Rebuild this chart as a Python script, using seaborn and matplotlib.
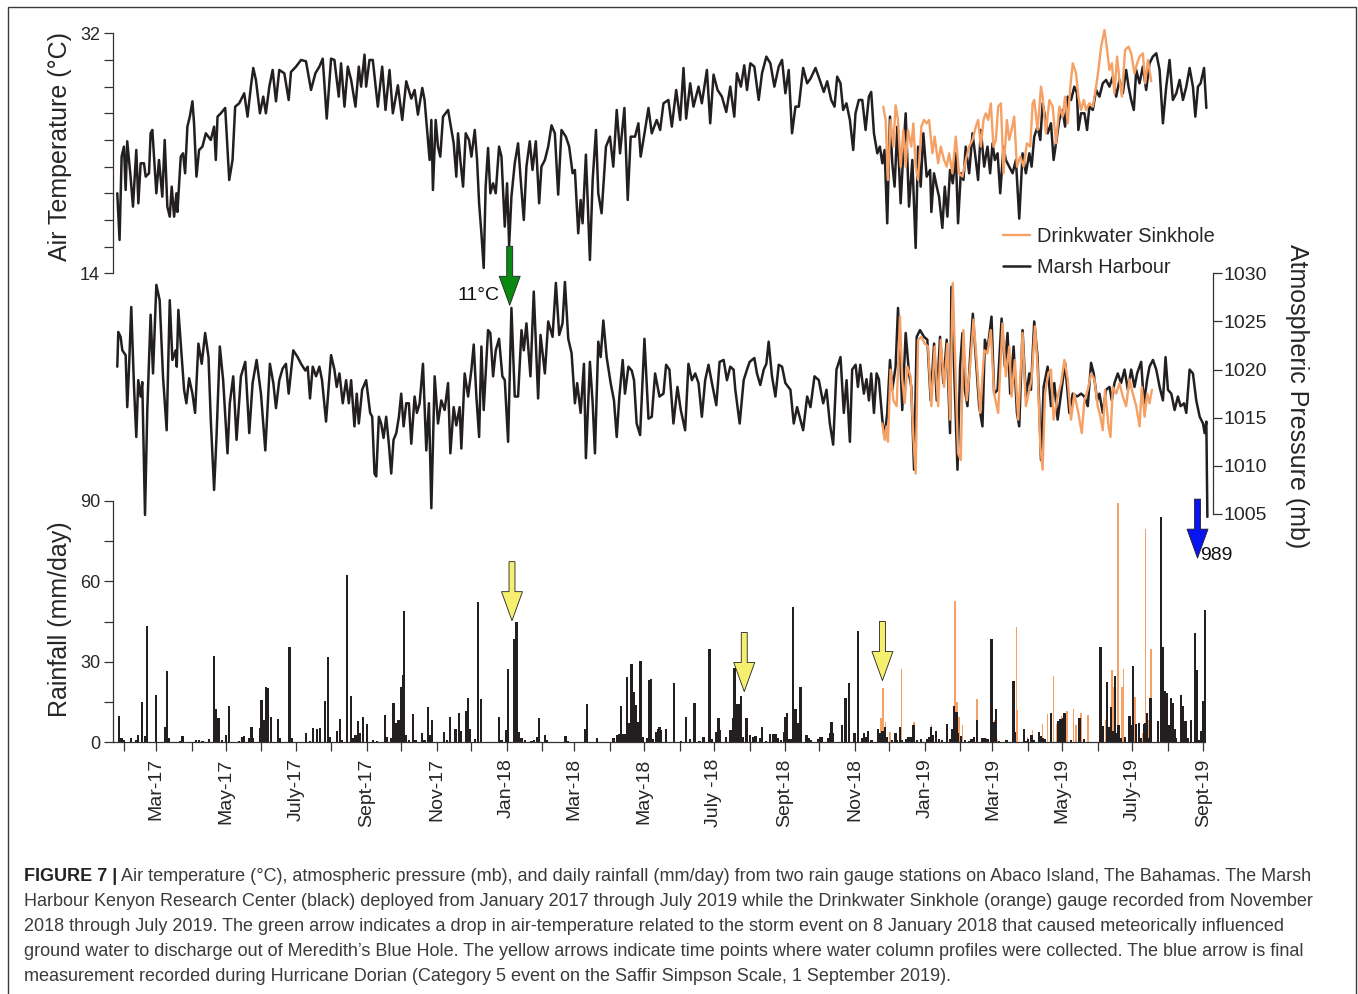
import matplotlib
matplotlib.use("Agg")
import matplotlib.pyplot as plt
import matplotlib.dates as mdates
from matplotlib.patches import Rectangle
import seaborn as sns
import pandas as pd
import numpy as np

# ---------------- data (day = days since 1 Jan 2017) ----------------
temp_marsh = [
 (25.2,20.0),(27.2,16.5),(29.0,22.75),(31.0,23.5),(32.5,20.25),(33.9,23.9),(36.8,21.25),(38.9,19.0),(41.8,23.25),(43.6,19.25),
 (45.6,22.25),(48.5,22.25),(50.0,21.25),(52.9,21.5),(54.3,24.5),(55.8,24.75),(59.3,20.0),(61.6,22.5),(64.5,19.75),(66.6,24.0),
 (68.9,19.0),(71.0,18.25),(72.7,20.5),(74.8,18.25),(76.8,20.0),(77.7,18.6),(80.6,22.75),(82.6,23.0),(84.4,21.5),(86.4,25.0),
 (88.5,25.75),(90.8,26.9),(92.2,25.25),(94.3,21.25),(96.6,23.25),(99.5,23.5),(102.5,24.5),(106.8,24.0),(109.7,25.0),(111.2,22.5),
 (112.7,25.75),(115.6,26.0),(119.4,26.4),(122.9,21.0),(125.8,22.5),(128.1,26.5),(131.6,26.75),(136.0,27.5),(138.9,25.75),(141.8,28.0),
 (143.9,29.4),(146.2,28.5),(149.7,26.0),(152.6,27.25),(154.9,26.0),(157.9,28.0),(160.8,29.25),(163.7,26.9),(166.6,29.25),(171.0,29.0),
 (174.8,27.0),(176.8,29.1),(181.2,29.5),(185.6,30.0),(189.9,29.9),(194.3,27.75),(198.1,29.0),(201.6,29.5),(204.5,30.1),(208.0,25.6),
 (211.8,30.1),(214.7,30.0),(218.5,27.25),(220.5,29.75),(223.5,26.5),(226.4,29.5),(229.3,28.5),(233.1,26.5),(236.0,29.5),(238.0,28.0),
 (241.0,30.4),(242.4,28.0),(245.3,30.0),(248.2,30.0),(252.6,26.5),(256.4,29.5),(259.3,26.25),(262.8,29.25),(265.7,26.0),(270.1,28.1),
 (273.9,25.5),(277.4,28.4),(281.8,27.1),(284.7,27.75),(287.6,25.9),(291.4,27.9),(293.4,27.0),(297.8,22.5),(299.3,25.5),(300.7,20.25),
 (303.1,25.5),(305.1,23.5),(307.1,22.75),(309.5,25.75),(313.9,26.25),(316.8,24.75),(318.8,23.75),(321.1,21.25),(322.6,24.5),(324.6,22.5),
 (327.0,20.5),(329.3,24.5),(332.2,24.0),(334.3,22.75),(337.2,24.75),(339.2,22.5),(341.0,19.25),(343.0,17.0),(345.0,14.4),(346.7,20.5),
 (348.8,23.4),(350.8,20.0),(353.2,20.75),(355.5,20.0),(358.4,23.5),(360.5,22.75),(363.4,17.5),(365.4,20.75),(367.2,16.1),(369.2,19.75),
 (372.1,22.25),(375.0,23.75),(377.1,21.25),(380.0,18.0),(382.3,22.0),(385.2,23.9),(387.6,21.75),(390.5,23.9),(393.4,19.25),(395.4,22.0),
 (398.4,22.5),(401.3,23.5),(404.2,25.1),(407.1,24.5),(410.0,19.9),(412.9,24.75),(416.7,24.25),(419.6,23.5),(422.6,21.5),(424.6,21.75),
 (427.5,17.0),(429.6,19.5),(431.3,17.75),(434.2,22.9),(437.7,15.0),(440.1,21.0),(443.0,24.75),(445.0,20.0),(447.9,18.5),(451.7,23.5),
 (455.2,24.25),(458.1,22.0),(461.1,26.25),(464.0,23.0),(467.8,26.4),(470.7,19.5),(473.3,24.25),(477.1,24.25),(480.0,25.25),(482.0,22.75),
 (485.8,24.75),(488.8,26.4),(491.7,24.5),(496.0,25.5),(499.0,24.75),(501.9,26.75),(506.2,27.0),(509.2,25.0),(513.0,27.75),(516.5,25.5),
 (519.4,29.4),(521.7,25.6),(525.2,28.25),(528.1,26.5),(532.5,28.0),(535.4,26.75),(539.8,29.25),(542.7,25.25),(545.6,28.9),(549.1,27.75),
 (552.9,27.25),(556.7,26.1),(560.2,28.0),(563.7,25.75),(566.0,29.0),(569.5,28.0),(572.4,29.6),(574.8,27.75),(577.7,29.75),(581.2,29.5),
 (585.0,27.0),(587.9,29.0),(591.7,30.25),(595.2,29.75),(598.7,28.0),(602.5,29.5),(605.4,30.0),(608.3,27.5),(611.2,29.25),(614.1,24.5),
 (617.1,26.5),(620.0,26.5),(623.8,29.4),(627.3,28.25),(630.2,28.6),(634.6,29.4),(638.3,28.5),(641.8,27.6),(644.8,28.4),(648.3,27.0),
 (651.2,26.5),(653.5,28.75),(656.4,28.25),(658.7,26.25),(661.6,26.75),(664.6,25.5),(667.5,23.25),(669.5,26.0),(672.4,27.0),(675.4,27.0),
 (678.3,24.75),(681.2,27.25),(683.2,27.6),(685.6,24.5),(688.5,23.0),(690.8,23.5),(692.9,22.25),(694.9,23.25),(697.2,17.75),(699.6,25.75),
 (701.6,22.25),(703.6,20.5),(706.0,25.0),(708.9,19.25),(711.2,23.0),(713.3,26.0),(716.2,19.0),(719.1,22.5),(722.0,15.9),(724.1,23.5),
 (726.4,20.5),(728.7,24.5),(731.6,21.25),(734.6,21.75),(735.7,18.6),(738.0,21.5),(740.4,20.5),(742.4,19.75),(745.3,17.4),(747.4,20.5),
 (749.7,18.25),(752.0,21.75),(754.4,20.75),(757.0,23.0),(759.0,17.75),(761.4,21.5),(763.7,21.0),(765.7,23.5),(768.7,21.5),(771.6,24.5),
 (774.5,22.5),(776.5,21.0),(778.9,24.75),(781.8,22.0),(784.7,23.5),(787.0,21.5),(789.1,23.75),(791.1,22.5),(793.5,23.0),(795.8,20.0),
 (798.7,23.5),(800.7,22.5),(803.7,22.0),(806.6,21.5),(809.5,22.5),(812.4,18.1),(815.3,23.0),(818.2,21.5),(821.2,23.0),(823.2,22.0),
 (825.5,24.25),(828.4,25.0),(830.8,24.0),(832.8,26.75),(834.9,25.75),(837.2,24.5),(840.1,25.25),(842.4,22.5),(844.5,23.75),(847.4,25.5),
 (850.3,26.25),(852.4,25.0),(854.7,27.25),(857.6,27.0),(860.5,28.0),(862.8,27.5),(864.0,24.75),(866.3,26.0),(869.3,26.0),(871.6,24.75),
 (873.6,26.5),(876.6,26.25),(879.5,27.75),(882.4,27.25),(885.3,28.25),(888.2,28.5),(891.1,28.0),(894.1,28.75),(897.0,27.25),(899.9,28.5),
 (902.8,27.5),(905.7,29.25),(907.8,28.0),(910.1,27.0),(912.4,26.25),(914.5,29.25),(917.4,28.25),(920.3,29.5),(923.2,27.75),(926.1,29.75),
 (929.0,30.25),(932.0,30.5),(934.9,29.25),(937.8,25.25),(940.7,28.0),(943.6,30.0),(946.5,27.0),(949.5,27.5),(952.4,28.5),(955.3,27.0),
 (958.2,28.0),(961.1,29.4),(964.0,28.0),(966.1,25.75),(968.4,28.0),(970.7,28.25),(973.7,29.4),(975.7,26.4)]

temp_drink = [
 (693.7,26.5),(695.8,25.5),(697.8,21.0),(700.1,25.5),(702.5,23.5),(704.5,26.6),(706.6,25.5),(708.9,22.0),(711.2,24.75),(713.3,22.0),
 (715.3,24.75),(718.2,23.5),(720.0,25.25),(722.0,22.0),(724.1,21.0),(727.0,25.0),(729.3,25.5),(731.6,25.25),(733.7,25.5),(736.6,23.0),
 (738.6,24.25),(741.6,22.25),(743.9,23.5),(746.8,22.5),(749.1,22.0),(751.2,23.0),(754.1,21.5),(757.0,24.25),(759.9,21.5),(762.8,21.25),
 (765.7,22.5),(768.7,23.5),(771.6,24.0),(774.5,25.0),(776.5,25.5),(778.9,23.5),(781.2,25.5),(783.2,26.0),(785.3,25.5),(787.6,26.75),
 (789.9,23.5),(792.0,24.0),(794.0,26.5),(796.4,26.75),(798.7,21.5),(801.6,25.5),(803.7,24.0),(805.7,24.75),(808.0,25.75),(810.4,22.0),
 (813.3,22.75),(816.2,22.0),(819.1,23.75),(822.0,23.5),(824.1,26.75),(825.5,27.0),(828.4,24.75),(831.4,28.0),(832.8,27.25),(835.7,24.5),
 (838.7,27.0),(841.6,26.5),(844.5,23.75),(847.4,26.5),(850.3,25.75),(852.4,27.25),(854.7,25.25),(857.0,28.0),(859.1,29.75),(862.0,29.0),
 (864.0,27.25),(866.3,26.25),(868.7,27.0),(870.7,26.25),(873.6,26.75),(876.6,26.5),(879.5,28.0),(881.5,29.25),(883.9,31.0),(886.8,32.25),
 (889.1,30.75),(891.1,29.25),(893.2,29.75),(895.5,27.5),(897.8,30.25),(899.9,28.5),(902.0,27.25),(904.8,30.75),(907.8,31.0),(910.1,30.5),
 (913.0,29.0),(915.3,29.75),(917.4,30.25),(920.3,30.5),(922.3,28.25),(924.7,30.0),(927.6,28.4)]

pres_marsh = [
 (25.2,1020.3),(26.1,1023.9),(28.1,1023.4),(29.6,1022.0),(32.5,1021.5),(33.9,1016.1),(35.4,1020.0),(37.4,1026.5),(39.8,1018.2),(41.8,1013.0),
 (43.5,1018.9),(45.6,1017.2),(47.0,1018.7),(49.4,1004.9),(51.4,1015.8),(54.3,1025.7),(56.4,1019.6),(59.3,1028.8),(62.2,1027.2),(65.1,1019.3),
 (68.3,1013.7),(71.0,1027.2),(73.3,1021.0),(76.2,1022.0),(77.1,1020.3),(78.5,1026.2),(81.5,1021.3),(83.5,1017.9),(85.5,1016.5),(87.9,1019.1),
 (90.8,1017.5),(93.1,1015.5),(96.0,1022.7),(98.9,1020.6),(101.9,1023.8),(104.8,1021.3),(106.8,1014.8),(109.7,1007.5),(111.8,1013.0),(114.7,1022.4),
 (117.6,1018.9),(121.4,1011.3),(123.4,1016.5),(126.4,1019.3),(129.3,1012.7),(133.1,1019.3),(136.9,1020.8),(140.4,1013.4),(143.3,1018.6),(146.8,1021.0),
 (150.6,1017.5),(154.4,1011.6),(158.4,1020.6),(161.4,1018.6),(163.7,1016.0),(166.6,1018.9),(169.5,1020.1),(172.4,1020.6),(174.8,1017.5),(178.8,1022.0),
 (182.6,1021.3),(185.6,1020.6),(189.3,1019.9),(191.4,1020.3),(193.4,1017.0),(195.8,1020.3),(198.7,1019.3),(201.6,1020.3),(203.9,1018.9),(207.4,1014.6),
 (211.8,1021.5),(214.7,1020.0),(216.7,1018.2),(219.1,1019.6),(222.0,1016.5),(224.9,1018.9),(227.3,1016.5),(229.3,1018.9),(232.2,1014.1),(234.2,1017.5),
 (236.0,1014.4),(238.9,1017.9),(242.4,1018.9),(245.9,1015.5),(247.7,1015.1),(249.7,1009.2),(251.2,1008.9),(253.5,1015.1),(255.5,1014.4),(257.6,1012.9),
 (259.9,1015.1),(262.2,1012.3),(264.3,1009.2),(266.3,1012.7),(268.7,1013.4),(271.0,1015.1),(273.0,1017.5),(275.1,1014.1),(277.4,1016.5),(279.7,1016.5),
 (281.8,1012.3),(284.7,1017.2),(286.7,1015.5),(289.1,1016.5),(292.0,1020.6),(294.9,1011.6),(297.2,1016.5),(299.3,1005.6),(302.2,1019.3),(305.1,1014.4),
 (308.0,1016.8),(310.9,1015.8),(313.9,1018.6),(315.9,1011.3),(318.8,1016.1),(321.1,1014.2),(324.0,1016.1),(325.5,1011.8),(328.4,1019.6),(331.4,1017.2),
 (334.3,1020.0),(336.3,1022.6),(338.6,1017.2),(341.0,1013.0),(343.0,1022.4),(345.0,1015.8),(348.8,1024.1),(350.8,1023.8),(353.2,1019.3),(355.5,1022.0),
 (358.4,1023.2),(361.3,1019.3),(363.4,1018.9),(366.3,1012.5),(369.2,1026.4),(372.1,1017.2),(375.0,1017.2),(378.0,1024.1),(380.0,1022.0),(382.3,1024.8),
 (385.8,1019.3),(388.7,1028.1),(392.5,1017.0),(394.6,1023.6),(398.4,1019.6),(401.3,1025.0),(405.1,1023.4),(408.0,1029.0),(410.9,1023.6),(413.8,1024.8),
 (415.9,1029.1),(418.8,1023.2),(421.7,1021.7),(424.6,1016.5),(426.6,1018.6),(429.6,1015.5),(432.5,1020.6),(434.2,1010.8),(437.7,1020.8),(440.1,1016.5),
 (442.1,1011.3),(445.0,1022.9),(447.1,1021.3),(449.4,1025.1),(452.3,1021.3),(455.8,1018.6),(458.7,1016.8),(461.1,1013.0),(463.4,1017.2),(466.3,1021.0),
 (468.3,1017.5),(471.3,1020.3),(474.2,1019.9),(476.2,1018.9),(478.5,1014.4),(481.5,1013.2),(485.3,1023.2),(488.8,1014.9),(491.7,1015.1),(494.6,1019.6),
 (498.4,1017.2),(501.9,1017.5),(504.2,1020.5),(507.1,1020.0),(510.6,1014.4),(514.1,1018.2),(517.0,1015.8),(520.8,1013.7),(523.7,1020.6),(526.7,1018.9),
 (529.6,1019.6),(532.5,1018.6),(535.4,1015.1),(538.3,1018.9),(541.2,1020.5),(544.2,1018.6),(548.0,1016.3),(550.9,1020.8),(554.4,1021.0),(557.3,1018.9),
 (560.2,1020.3),(563.1,1020.0),(564.6,1017.9),(568.4,1014.4),(571.9,1018.9),(574.8,1020.0),(577.1,1020.8),(581.2,1021.2),(583.5,1019.6),(586.4,1018.4),
 (589.4,1020.0),(591.7,1020.6),(593.7,1022.9),(596.6,1019.3),(599.6,1017.2),(602.5,1020.5),(605.4,1020.3),(608.3,1018.6),(612.7,1017.9),(615.6,1014.4),
 (618.5,1016.1),(621.4,1014.8),(623.8,1013.7),(627.3,1017.2),(630.2,1016.1),(633.7,1019.3),(637.5,1018.9),(641.3,1016.5),(644.2,1017.9),(647.1,1014.4),
 (650.0,1012.2),(652.9,1020.0),(656.4,1021.3),(659.3,1015.5),(661.7,1018.9),(664.6,1012.5),(666.6,1020.0),(669.6,1020.5),(671.6,1018.2),(673.7,1020.5),
 (676.8,1017.5),(679.1,1019.0),(681.2,1016.8),(683.2,1019.6),(685.6,1015.5),(687.9,1019.6),(689.9,1019.0),(692.9,1014.8),(694.9,1013.0),(697.2,1015.5),
 (699.6,1021.0),(701.6,1017.9),(704.5,1020.3),(706.6,1026.4),(708.9,1020.3),(710.3,1015.8),(713.3,1023.8),(716.2,1019.6),(718.2,1018.2),(720.6,1009.6),
 (722.9,1023.4),(725.8,1024.1),(729.3,1023.4),(732.2,1023.1),(735.1,1016.8),(738.1,1022.7),(740.4,1016.8),(743.3,1023.4),(746.2,1018.6),(749.1,1023.1),
 (752.0,1013.4),(753.2,1028.6),(755.5,1020.3),(758.5,1009.6),(760.8,1020.3),(762.8,1023.8),(764.9,1017.9),(767.2,1016.2),(769.5,1021.3),(771.9,1025.8),
 (774.5,1021.3),(777.4,1016.2),(780.3,1014.1),(782.4,1023.1),(784.7,1022.0),(788.2,1025.5),(790.5,1017.5),(793.5,1017.9),(797.0,1025.3),(799.9,1020.3),
 (802.2,1023.8),(804.5,1017.5),(807.5,1022.4),(810.4,1015.5),(812.4,1014.1),(815.3,1024.1),(818.2,1017.2),(821.2,1019.6),(822.6,1017.9),(825.5,1025.0),
 (828.4,1021.3),(831.4,1010.6),(833.7,1018.2),(837.2,1020.3),(840.1,1016.2),(843.0,1018.6),(845.9,1014.8),(848.9,1017.5),(852.4,1020.7),(856.1,1015.5),
 (859.1,1017.5),(862.9,1017.2),(866.4,1017.5),(869.3,1017.2),(872.2,1016.2),(875.1,1020.7),(877.4,1019.6),(880.4,1016.8),(882.4,1017.5),(885.3,1015.5),
 (888.2,1017.9),(891.2,1018.2),(893.2,1016.8),(895.5,1018.6),(898.4,1019.6),(901.3,1018.6),(904.3,1020.0),(907.2,1017.9),(910.1,1020.0),(913.0,1018.2),
 (915.3,1019.6),(918.8,1020.8),(921.2,1016.5),(924.1,1019.0),(926.1,1020.3),(929.1,1021.0),(932.0,1020.0),(934.9,1018.2),(937.8,1016.8),(940.1,1021.3),
 (942.2,1017.9),(945.1,1017.5),(948.0,1015.8),(950.9,1017.2),(953.2,1016.2),(956.2,1016.5),(958.2,1015.5),(961.1,1020.0),(964.0,1019.6),(966.9,1016.8),
 (969.9,1015.1),(972.8,1014.4),(974.2,1013.4),(975.7,1014.6),(976.6,1004.7)]

pres_drink = [
 (692.9,1014.4),(694.9,1012.7),(696.6,1014.1),(697.8,1012.5),(700.1,1020.0),(702.5,1016.8),(705.4,1016.2),(708.3,1025.5),(710.3,1019.0),(712.4,1016.5),
 (714.7,1020.3),(717.6,1019.3),(720.0,1013.0),(722.0,1009.2),(724.1,1023.1),(727.0,1023.4),(729.9,1022.7),(732.8,1022.4),(735.7,1016.2),(738.6,1022.4),
 (741.6,1016.2),(743.9,1023.1),(746.8,1018.2),(749.7,1022.7),(752.0,1014.8),(754.4,1029.0),(756.7,1020.0),(759.0,1011.3),(761.4,1010.6),(763.7,1024.1),
 (766.6,1016.8),(769.5,1020.3),(772.5,1025.2),(775.4,1020.7),(778.3,1015.5),(781.8,1022.0),(784.7,1021.7),(787.6,1024.1),(790.5,1017.5),(794.0,1015.5),
 (797.8,1024.8),(800.7,1019.3),(803.7,1022.4),(805.7,1017.2),(808.6,1021.0),(811.5,1014.8),(815.3,1023.8),(818.2,1016.2),(821.2,1017.9),(823.2,1019.0),
 (826.1,1024.5),(828.4,1020.3),(830.8,1012.0),(832.8,1009.6),(834.9,1017.5),(837.8,1019.6),(840.1,1020.0),(842.4,1014.8),(845.9,1017.2),(848.9,1018.6),
 (851.8,1021.0),(854.7,1019.0),(857.6,1014.8),(860.5,1017.5),(864.0,1015.5),(867.0,1013.4),(869.3,1016.8),(872.2,1017.9),(875.1,1019.6),(878.0,1019.0),
 (880.9,1016.2),(883.3,1015.1),(885.3,1013.7),(887.3,1017.9),(890.3,1014.1),(892.0,1013.0),(894.1,1018.2),(897.0,1017.5),(899.9,1018.6),(902.8,1017.2),
 (905.7,1016.2),(908.6,1019.0),(911.6,1017.5),(914.5,1016.2),(917.4,1014.1),(919.4,1018.2),(921.8,1015.1),(924.1,1017.5),(926.1,1016.5),(928.2,1017.9)]

rain_marsh = [
 (26.6,9.8),(29.0,1.5),(31.0,0.9),(37.4,1.5),(41.8,0.9),(43.5,2.7),(47.0,15.1),(49.4,2.3),(51.4,43.3),(59.3,17.6),
 (66.6,5.8),(68.3,26.7),(69.8,1.5),(79.7,0.6),(82.0,2.3),(93.7,0.9),(96.6,0.9),(99.5,0.6),(105.4,1.2),(109.7,32.1),
 (111.2,12.3),(113.5,8.9),(116.5,0.9),(120.0,2.9),(122.9,13.6),(131.6,0.6),(134.0,1.9),(136.0,2.3),(140.4,1.5),(142.4,5.8),
 (143.9,1.5),(149.7,5.2),(151.1,15.7),(152.9,8.3),(154.9,20.7),(157.0,20.1),(159.3,9.5),(165.7,8.7),(167.2,1.5),(175.4,35.6),
 (177.7,1.5),(189.9,3.3),(193.4,0.6),(196.3,5.2),(199.3,4.8),(202.2,5.4),(206.8,15.5),(209.2,31.6),(210.9,2.1),(216.8,4.1),
 (219.7,8.5),(221.4,0.9),(225.5,62.2),(229.0,17.2),(231.3,1.5),(233.1,2.7),(235.1,8.0),(237.2,3.6),(239.5,9.5),(243.0,7.0),
 (248.2,0.9),(251.7,0.6),(259.0,10.0),(260.5,1.8),(264.3,1.5),(266.3,14.7),(268.7,7.3),(270.7,8.3),(273.0,20.5),(274.5,25.1),
 (275.4,49.0),(277.4,2.7),(279.7,0.9),(283.2,10.4),(285.6,0.9),(291.1,3.3),(293.4,0.9),(296.4,13.0),(298.4,2.7),(300.1,8.3),
 (310.4,3.8),(313.0,0.9),(315.3,9.3),(320.3,4.8),(323.5,11.1),(325.5,4.3),(329.3,11.6),(331.4,16.4),(332.8,4.8),(337.2,1.1),
 (340.1,52.3),(342.4,16.1),(358.5,9.5),(360.5,0.9),(364.3,4.6),(366.3,27.2),(371.6,38.4),(373.6,44.9),(375.7,4.0),(378.0,1.5),
 (380.9,0.9),(386.7,0.6),(388.8,0.9),(392.0,2.1),(393.5,8.9),(398.4,2.7),(400.5,0.9),(416.5,2.3),(418.8,0.6),(433.4,4.8),
 (434.9,14.2),(443.6,1.7),(458.2,1.7),(461.1,2.7),(463.1,3.1),(464.6,13.6),(466.4,3.1),(467.8,3.1),(469.9,24.4),(471.9,7.1),
 (473.9,29.2),(475.7,18.9),(477.4,13.9),(479.5,7.7),(481.8,30.3),(483.8,2.1),(487.9,1.5),(489.4,23.2),(490.8,23.7),(492.6,1.1),
 (495.5,4.0),(497.0,4.8),(498.4,5.8),(499.6,4.6),(504.3,4.8),(511.3,22.2),(517.1,0.6),(521.5,9.6),(525.3,1.1),(529.1,14.5),
 (533.4,0.6),(536.9,2.1),(542.2,34.6),(544.2,1.1),(548.0,4.0),(550.0,8.9),(551.5,4.6),(556.7,2.1),(560.3,4.6),(562.3,8.9),
 (564.0,27.6),(566.1,14.3),(567.8,14.3),(569.6,17.2),(571.3,2.1),(574.3,8.9),(577.2,2.7),(579.8,2.1),(582.1,2.3),(585.9,1.5),
 (588.0,5.8),(591.4,0.6),(594.7,3.1),(597.3,3.1),(599.6,3.1),(601.7,1.5),(604.6,0.9),(606.9,4.0),(608.4,9.3),(609.8,10.8),
 (611.9,1.1),(613.3,1.1),(614.8,50.3),(617.1,12.3),(618.6,7.1),(620.0,7.3),(621.5,20.7),(626.7,2.7),(628.8,1.5),(630.8,0.9),
 (636.6,1.1),(639.0,2.1),(640.4,2.1),(645.4,1.5),(647.1,3.6),(648.6,7.7),(650.1,3.3),(657.9,6.4),(660.8,16.4),(663.7,22.2),
 (668.6,3.3),(671.6,41.6),(675.4,1.5),(676.8,3.3),(678.3,2.1),(680.6,4.3),(683.5,0.9),(689.1,4.8),(691.4,3.3),(693.1,4.3),
 (695.2,5.8),(697.2,2.1),(701.6,0.9),(704.5,3.3),(706.0,0.9),(708.3,5.6),(710.3,0.9),(713.3,1.1),(715.3,1.8),(717.6,2.1),
 (720.0,6.4),(722.9,0.9),(726.4,1.1),(731.6,1.1),(733.7,2.1),(735.7,5.8),(737.2,2.7),(739.5,4.3),(742.4,1.1),(745.3,0.9),
 (749.1,7.0),(752.0,1.1),(754.1,4.8),(755.5,13.5),(757.6,11.4),(759.0,3.3),(761.4,2.3),(764.9,0.9),(768.7,0.6),(770.7,1.1),
 (773.0,2.1),(775.4,8.3),(780.3,1.5),(782.4,1.5),(784.7,1.1),(788.2,38.3),(790.5,7.7),(792.3,12.3),(794.9,0.6),(801.3,0.9),
 (807.5,22.9),(808.9,3.9),(816.8,5.1),(818.8,0.6),(820.3,1.1),(823.2,2.6),(824.9,0.9),(829.9,3.9),(831.4,2.3),(833.4,1.5),
 (834.9,1.1),(840.1,11.1),(846.5,8.0),(848.3,8.5),(850.3,8.9),(851.8,11.0),(857.6,0.9),(864.9,8.9),(868.7,1.1),(883.3,35.6),
 (885.3,6.0),(889.1,22.6),(890.6,5.8),(892.6,13.3),(894.1,4.3),(896.1,24.7),(897.8,3.3),(899.0,6.4),(900.8,1.5),(904.8,2.1),
 (908.6,9.8),(909.8,6.4),(911.6,28.4),(914.5,6.8),(916.8,7.3),(918.8,1.5),(921.2,7.0),(922.3,7.3),(924.1,11.0),(925.3,1.5),
 (927.0,16.4),(933.4,8.0),(936.3,84.1),(937.8,35.6),(939.8,19.2),(941.6,18.5),(943.6,6.3),(945.1,16.4),(946.5,14.7),(948.0,4.8),
 (949.5,1.5),(953.8,17.6),(955.3,13.5),(957.6,8.0),(959.7,1.5),(962.6,8.3),(965.5,40.8),(967.0,26.9),(969.0,0.9),(970.8,4.3),
 (972.8,15.5),(974.8,49.3)]

rain_drink = [
 (692.0,8.9),(693.7,20.1),(695.8,7.7),(699.6,3.9),(709.5,27.2),(716.2,2.1),(720.6,7.7),(735.7,6.4),(756.1,52.8),(757.9,15.1),
 (759.9,9.3),(762.8,6.4),(775.4,16.0),(783.2,1.5),(789.1,29.2),(791.1,8.3),(793.5,1.1),(810.1,43.1),(811.0,12.0),(819.7,2.1),
 (824.1,4.6),(832.8,7.0),(837.2,10.5),(842.4,24.7),(845.4,7.0),(849.4,9.8),(854.1,11.8),(859.9,12.4),(862.0,6.4),(866.4,10.8),
 (872.2,10.1),(883.9,8.3),(888.2,8.3),(893.2,26.9),(894.9,20.7),(898.4,89.0),(901.9,20.7),(903.4,27.2),(913.6,16.7),(920.3,3.3),
 (922.6,79.3),(924.7,8.3),(927.6,34.6)]

temp_ticks = [14, 16, 18, 20, 22, 24, 26, 28, 30, 32]
temp_ticklabels = ["14", "", "", "", "", "", "", "", "", "32"]
pres_ticks = [1005, 1010, 1015, 1020, 1025, 1030]
rain_ticks = [0, 15, 30, 45, 60, 75, 90]
rain_ticklabels = ["0", "", "30", "", "60", "", "90"]
month_labels = ["Mar-17", "May-17", "July-17", "Sept-17", "Nov-17", "Jan-18", "Mar-18", "May-18",
                "July -18", "Sept-18", "Nov-18", "Jan-19", "Mar-19", "May-19", "July-19", "Sept-19"]
series_names = ["Drinkwater Sinkhole", "Marsh Harbour"]

# annotation anchors (day, value)
green_arrow = (367.7, 11.6)
yellow_arrows = [(369.7, 45.3), (572.4, 18.9), (693.0, 23.0)]
blue_arrow = (968.0, 68.6)

caption_bold = "FIGURE 7 |"
caption_lines = [
    " Air temperature (°C), atmospheric pressure (mb), and daily rainfall (mm/day) from two rain gauge stations on Abaco Island, The Bahamas. The Marsh",
    "Harbour Kenyon Research Center (black) deployed from January 2017 through July 2019 while the Drinkwater Sinkhole (orange) gauge recorded from November",
    "2018 through July 2019. The green arrow indicates a drop in air-temperature related to the storm event on 8 January 2018 that caused meteorically influenced",
    "ground water to discharge out of Meredith\u2019s Blue Hole. The yellow arrows indicate time points where water column profiles were collected. The blue arrow is final",
    "measurement recorded during Hurricane Dorian (Category 5 event on the Saffir Simpson Scale, 1 September 2019).",
]

# ---------------- styling ----------------
sns.set_theme(style="ticks")
plt.rcParams["font.family"] = ["Liberation Sans", "DejaVu Sans"]
plt.rcParams["axes.unicode_minus"] = False

BLACK = "#231f20"
ORANGE = "#f5a064"
SPINE = "#333333"
W, H = 1358, 994
BASE = pd.Timestamp("2017-01-01")


def to_dates(days):
    return BASE + pd.to_timedelta(np.asarray(days, dtype=float), unit="D")


def to_num(day):
    return mdates.date2num(BASE + pd.Timedelta(days=float(day)))


def frame(pairs, col):
    df = pd.DataFrame(pairs, columns=["day", col])
    df["date"] = to_dates(df["day"])
    return df


fig = plt.figure(figsize=(W / 100, H / 100), dpi=100)
fig.patch.set_facecolor("white")


def px_axes(l, r, t, b):
    return fig.add_axes([l / W, 1 - b / H, (r - l) / W, (b - t) / H])


ax_r = px_axes(113.3, 1212.7, 500.7, 742.3)
ax_p = px_axes(113.3, 1212.7, 273.3, 514.0)
ax_t = px_axes(113.3, 1212.7, 33.3, 273.3)
for ax in (ax_r, ax_p, ax_t):
    ax.set_facecolor("none")
    for s in ax.spines.values():
        s.set_visible(False)
        s.set_color(SPINE)
        s.set_linewidth(0.9)

tm, td = frame(temp_marsh, "t"), frame(temp_drink, "t")
pm, pd_ = frame(pres_marsh, "p"), frame(pres_drink, "p")
rm, rd = frame(rain_marsh, "mm"), frame(rain_drink, "mm")

# temperature
sns.lineplot(data=tm, x="date", y="t", ax=ax_t, color=BLACK, lw=1.8, estimator=None, sort=False)
sns.lineplot(data=td, x="date", y="t", ax=ax_t, color=ORANGE, lw=1.7, estimator=None, sort=False)
h_black, h_orange = ax_t.lines[0], ax_t.lines[1]
# pressure
sns.lineplot(data=pm, x="date", y="p", ax=ax_p, color=BLACK, lw=1.8, estimator=None, sort=False)
sns.lineplot(data=pd_, x="date", y="p", ax=ax_p, color=ORANGE, lw=1.7, estimator=None, sort=False)
for ax in (ax_t, ax_p):
    for ln in ax.lines:
        ln.set_clip_on(False)
        ln.set_solid_joinstyle("round")
# rainfall
ax_r.bar(rd["date"], rd["mm"], width=1.4, color=ORANGE, linewidth=0)
ax_r.bar(rm["date"], rm["mm"], width=2.0, color=BLACK, linewidth=0)

xlim = (to_num(21.73), to_num(981.25))
for ax in (ax_r, ax_p, ax_t):
    ax.set_xlim(*xlim)
    ax.set_xlabel("")

# temperature axis
ax_t.set_ylim(14, 32)
ax_t.spines["left"].set_visible(True)
ax_t.set_yticks(temp_ticks)
ax_t.set_yticklabels(temp_ticklabels)
ax_t.tick_params(axis="y", direction="out", length=6.5, width=0.9, pad=3, labelsize=13, color=SPINE)
ax_t.tick_params(axis="x", which="both", bottom=False, labelbottom=False)
ax_t.set_ylabel("Air Temperature (°C)", fontsize=18)
ax_t.yaxis.set_label_coords((60 - 113.3) / 1099.4, 0.53)
ax_t.yaxis.label.set_va("center")

# pressure axis
ax_p.set_ylim(1005, 1030)
ax_p.spines["right"].set_visible(True)
ax_p.yaxis.tick_right()
ax_p.yaxis.set_label_position("right")
ax_p.set_yticks(pres_ticks)
ax_p.set_yticklabels([str(v) for v in pres_ticks])
ax_p.tick_params(axis="y", direction="out", length=6.5, width=0.9, pad=1.5, labelsize=14, color=SPINE)
ax_p.tick_params(axis="x", which="both", bottom=False, labelbottom=False)
ax_p.set_ylabel("Atmospheric Pressure (mb)", fontsize=18, rotation=270)
ax_p.yaxis.set_label_coords((1297 - 113.3) / 1099.4, 0.49)
ax_p.yaxis.label.set_va("center")

# rainfall axis
ax_r.set_ylim(0, 90)
ax_r.spines["left"].set_visible(True)
ax_r.spines["bottom"].set_visible(True)
ax_r.spines["bottom"].set_bounds(xlim[0], to_num(974.5))
ax_r.set_yticks(rain_ticks)
ax_r.set_yticklabels(rain_ticklabels)
month_starts = pd.date_range("2017-02-01", "2019-09-01", freq="MS")
labels_iter = iter(month_labels)
xt_labels = [next(labels_iter) if m.month % 2 == 1 else "" for m in month_starts]
ax_r.set_xticks(mdates.date2num(month_starts))
ax_r.set_xticklabels(xt_labels, rotation=90)
ax_r.tick_params(axis="y", direction="out", length=6.5, width=0.9, pad=3, labelsize=13, color=SPINE)
ax_r.tick_params(axis="x", direction="out", length=6.5, width=0.9, pad=5, labelsize=14, color=SPINE)
ax_r.set_ylabel("Rainfall (mm/day)", fontsize=18)
ax_r.yaxis.set_label_coords((60 - 113.3) / 1099.4, 0.51)
ax_r.yaxis.label.set_va("center")

# legend
ax_t.legend(handles=[h_orange, h_black], labels=series_names, loc="upper left",
            bbox_to_anchor=(1003 / W, 1 - 227 / H), bbox_transform=fig.transFigure,
            frameon=False, fontsize=14.4, handlelength=1.35, handletextpad=0.35,
            labelspacing=0.6, borderpad=0, borderaxespad=0)

# arrows
def arrow(ax, day, val, color):
    ax.annotate("", xy=(to_num(day), val), xytext=(0, 42.5), textcoords="offset points",
                arrowprops=dict(arrowstyle="simple,head_length=2.09,head_width=1.51,tail_width=0.43",
                                mutation_scale=10, fc=color, ec="#222222", lw=0.6,
                                shrinkA=0, shrinkB=0), annotation_clip=False, zorder=10)

arrow(ax_t, green_arrow[0], green_arrow[1], "#078a0f")
for d, v in yellow_arrows:
    arrow(ax_r, d, v, "#f6ee6e")
arrow(ax_r, blue_arrow[0], blue_arrow[1], "#0a14f0")
ax_t.text(to_num(359.2), 12.3, "11°C", ha="right", va="center", fontsize=14, color="#111111")
ax_r.text(to_num(970.2), 69.4, "989", ha="left", va="center", fontsize=14, color="#111111")

# figure border
fig.add_artist(Rectangle((8 / W, -0.05), 1348 / W, 1.05 - 7 / H, transform=fig.transFigure,
                         fill=False, ec="#3a3a3a", lw=1.0))

# caption
cap_color = "#3b3b3b"
cap_y = [876.7, 901.7, 926.5, 951.7, 976.7]
renderer = fig.canvas.get_renderer()
probe = fig.text(24 / W, 0.5, caption_lines[1], fontsize=12.5)
w = probe.get_window_extent(renderer).width
probe.remove()
fs = 12.5 * 1289.0 / w
bt = fig.text(24 / W, 1 - cap_y[0] / H, caption_bold, fontsize=fs, fontweight="bold",
              color="#222222", va="center", ha="left")
bx = bt.get_window_extent(renderer).x1
fig.text(bx / W, 1 - cap_y[0] / H, caption_lines[0], fontsize=fs, color=cap_color, va="center", ha="left")
for line, y in zip(caption_lines[1:], cap_y[1:]):
    fig.text(24 / W, 1 - y / H, line, fontsize=fs, color=cap_color, va="center", ha="left")

fig.savefig("out.png", dpi=100)
